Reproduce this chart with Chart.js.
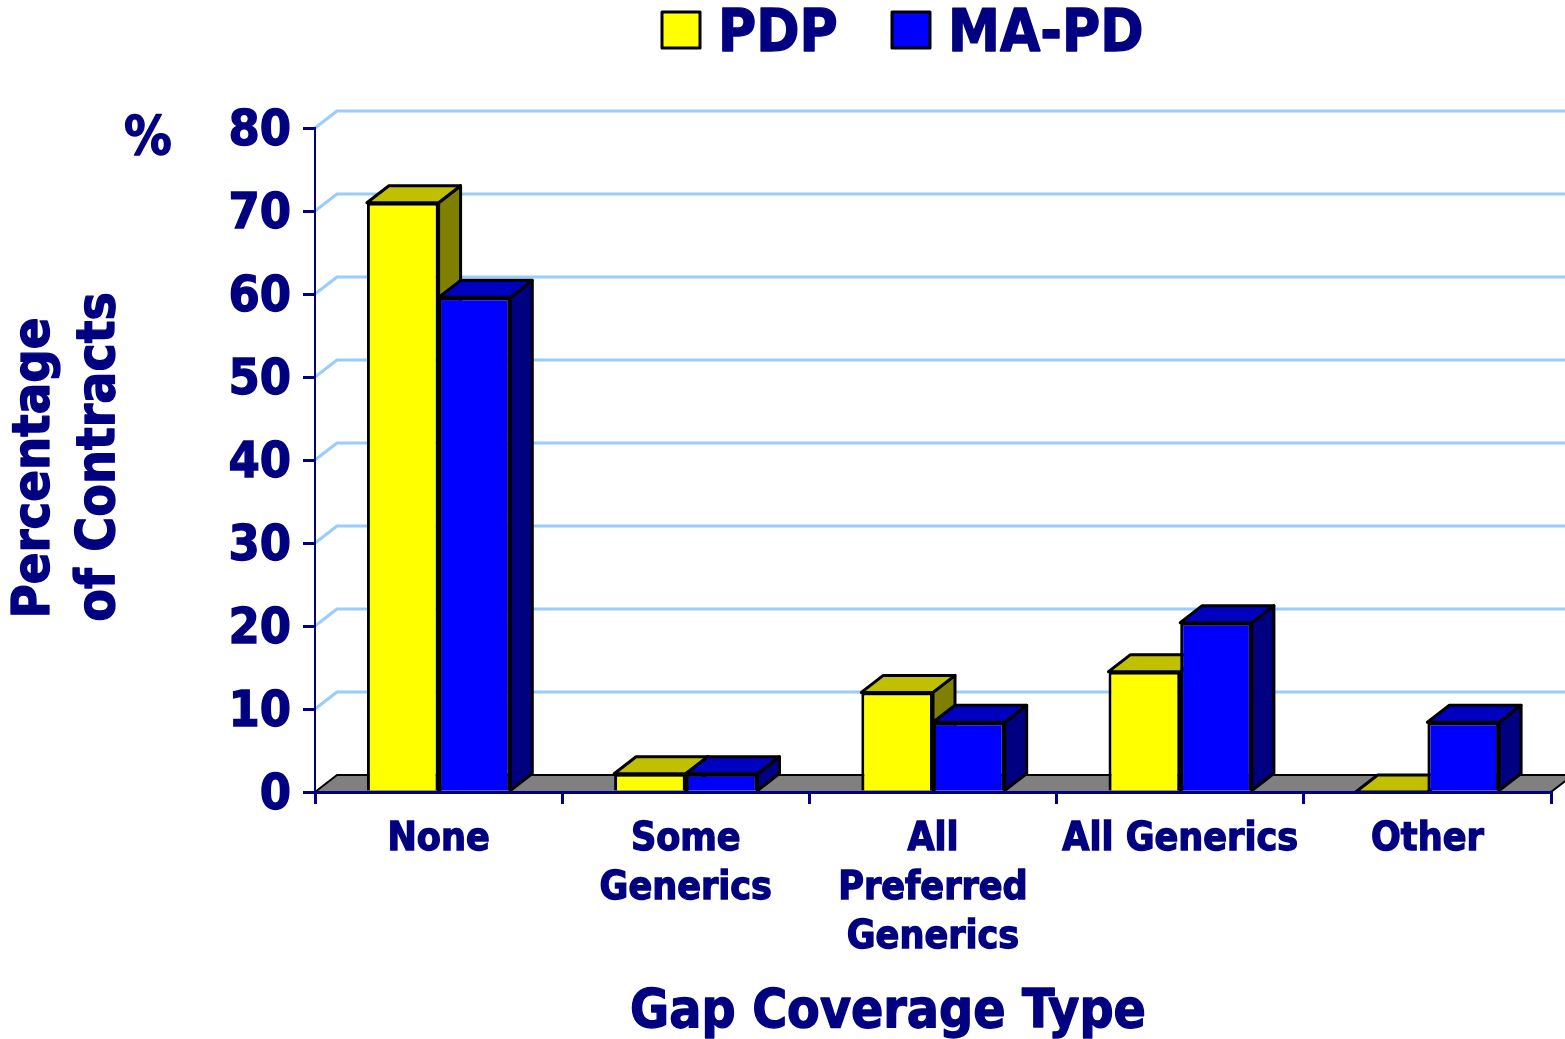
<!DOCTYPE html>
<html>
<head>
<meta charset="utf-8">
<title>Gap Coverage Type</title>
<script src="https://cdn.jsdelivr.net/npm/chart.js@4/dist/chart.umd.min.js"></script>
<style>
html,body{margin:0;padding:0;background:#fff}
canvas{display:block}
</style>
</head>
<body>
<canvas id="chart" width="1565" height="1039"></canvas>
<script>
const categories = ["None", ["Some", "Generics"], ["All", "Preferred", "Generics"], "All Generics", "Other"];
const pdpValues = [71, 2.2, 12, 14.5, 0];
const mapdValues = [59.6, 2.2, 8.4, 20.4, 8.4];
const yTicks = [0, 10, 20, 30, 40, 50, 60, 70, 80];

const navy = "#000080";
const fontFamily = "'DejaVu Sans Condensed', 'DejaVu Sans', sans-serif";
const depthX = 22, depthY = 17;
const heavy = 1.3; // the original type is heavier than the condensed bold

function text(ctx, str, x, y, size, angle){
    ctx.save();
    ctx.translate(x, y);
    if(angle) ctx.rotate(angle);
    ctx.font = "bold " + size + "px " + fontFamily;
    ctx.fillStyle = navy;
    ctx.strokeStyle = navy;
    ctx.lineWidth = heavy;
    ctx.lineJoin = "round";
    ctx.textBaseline = "middle";
    ctx.fillText(str, 0, 0);
    ctx.strokeText(str, 0, 0);
    ctx.restore();
}

function poly(ctx, pts, fill, stroke, width){
    ctx.beginPath();
    pts.forEach((p, i) => i ? ctx.lineTo(p[0], p[1]) : ctx.moveTo(p[0], p[1]));
    ctx.closePath();
    ctx.fillStyle = fill;
    ctx.fill();
    ctx.lineWidth = width;
    ctx.lineJoin = "round";
    ctx.strokeStyle = stroke;
    ctx.stroke();
}

// the floor, back wall grid and the side/top faces of the bars
const depth3d = {
    id: "depth3d",
    beforeDatasetsDraw(chart){
        const {ctx, scales: {x, y}, chartArea} = chart;
        ctx.save();
        const y0 = y.getPixelForValue(0);
        poly(ctx, [[x.left, y0], [x.left + depthX, y0 - depthY], [x.right + depthX, y0 - depthY], [x.right, y0]], "#808080", "#000", 2);
        ctx.strokeStyle = "#99ccff";
        ctx.lineWidth = 3;
        yTicks.slice(1).forEach(v => {
            const py = y.getPixelForValue(v);
            ctx.beginPath();
            ctx.moveTo(chartArea.left, py);
            ctx.lineTo(chartArea.left + depthX, py - depthY);
            ctx.lineTo(chartArea.right + depthX, py - depthY);
            ctx.stroke();
        });
        chart.data.datasets.forEach((ds, d) => {
            chart.getDatasetMeta(d).data.forEach(bar => {
                const l = bar.x - bar.width / 2, r = bar.x + bar.width / 2, t = bar.y, b = bar.base;
                if(b > t) poly(ctx, [[r, t], [r + depthX, t - depthY], [r + depthX, b - depthY], [r, b]], ds.sideColor, "#000", 3);
                poly(ctx, [[l, t], [l + depthX, t - depthY], [r + depthX, t - depthY], [r, t]], ds.topColor, "#000", 3);
            });
        });
        ctx.restore();
    },
    afterDraw(chart){
        const {ctx} = chart;
        ctx.save();
        // legend
        let lx = 662;
        chart.data.datasets.forEach((ds, i) => {
            poly(ctx, [[lx, 12], [lx + 38, 12], [lx + 38, 48], [lx, 48]], ds.backgroundColor, "#000", 3);
            ctx.textAlign = "left";
            text(ctx, ds.label, lx + 56, 36, 58);
            lx = 892;
        });
        ctx.textAlign = "center";
        text(ctx, "Gap Coverage Type", 888, 1013, 53);
        text(ctx, "%", 148, 140, 53);
        text(ctx, "Percentage", 35, 468, 52, -Math.PI / 2);
        text(ctx, "of Contracts", 100, 457, 53, -Math.PI / 2);
        ctx.restore();
    }
};

new Chart(document.getElementById("chart"), {
    type: "bar",
    data: {
        labels: categories,
        datasets: [
            {label: "PDP", data: pdpValues, backgroundColor: "#ffff00", topColor: "#c0c000", sideColor: "#808000"},
            {label: "MA-PD", data: mapdValues, backgroundColor: "#0000ff", topColor: "#0000c0", sideColor: "#000080"}
        ]
    },
    options: {
        responsive: false,
        animation: false,
        events: [],
        layout: {padding: {top: 128, right: 14}},
        datasets: {bar: {categoryPercentage: 0.58, barPercentage: 1, borderColor: "#000", borderWidth: 3, borderSkipped: "bottom"}},
        plugins: {legend: {display: false}, tooltip: {enabled: false}},
        scales: {
            x: {
                afterFit: s => { s.height = 247; },
                grid: {drawOnChartArea: false, color: navy, lineWidth: 3, tickLength: 12, z: 1},
                border: {color: navy, width: 3, z: 1},
                ticks: {color: navy, autoSkip: false, maxRotation: 0, padding: 12, textStrokeColor: navy, textStrokeWidth: heavy, font: {family: fontFamily, weight: "bold", size: 39, lineHeight: 1.245}}
            },
            y: {
                min: 0,
                max: 80,
                afterFit: s => { s.width = 315; },
                afterBuildTicks: s => { s.ticks = yTicks.map(v => ({value: v})); },
                grid: {drawOnChartArea: false, color: navy, lineWidth: 3, tickLength: 12, z: 1},
                border: {color: navy, width: 2, z: 1},
                ticks: {color: navy, padding: 12, labelOffset: 4, textStrokeColor: navy, textStrokeWidth: heavy, font: {family: fontFamily, weight: "bold", size: 50}}
            }
        }
    },
    plugins: [depth3d]
});
</script>
</body>
</html>
